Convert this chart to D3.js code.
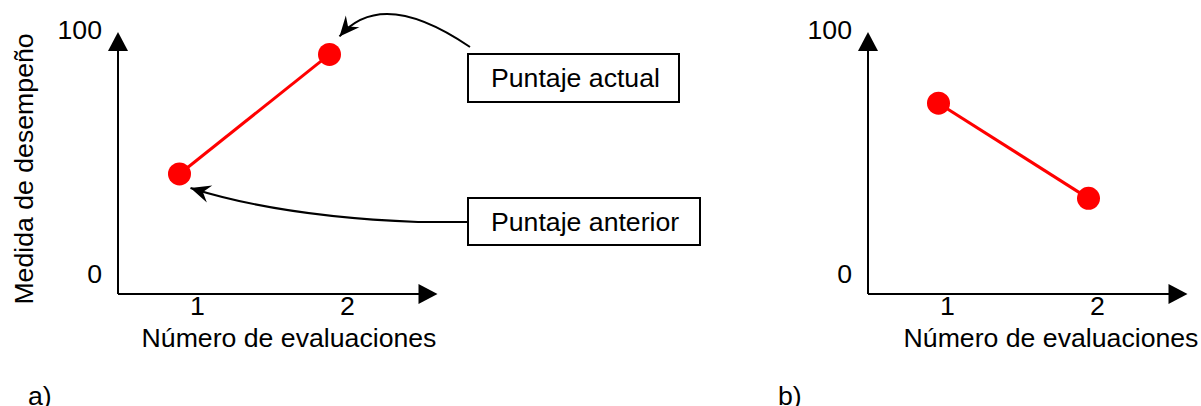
<!DOCTYPE html>
<html>
<head>
<meta charset="utf-8">
<script src="https://cdn.jsdelivr.net/npm/d3@7"></script>
<style>
  html, body { margin: 0; padding: 0; background: #fff; }
  svg text { font-family: "Liberation Sans", Arial, sans-serif; fill: #000; font-size: 26.67px; }
</style>
</head>
<body>
<div id="chart"></div>
<script>
// data
var evalA = [0.88, 1.88];      // x position of the two scores, panel a
var scoreA = [41, 90];         // performance measure, panel a
var evalB = [0.94, 1.94];      // panel b
var scoreB = [70, 31];
var xTicks = [1, 2];
var yTicks = [0, 100];
var calloutLabels = ["Puntaje anterior", "Puntaje actual"];

var W = 1201, H = 406;

var svg = d3.select("#chart").append("svg")
    .attr("width", W)
    .attr("height", H);

var defs = svg.append("defs");
defs.append("marker")
    .attr("id", "head")
    .attr("markerUnits", "userSpaceOnUse")
    .attr("viewBox", "-22 -11 24 22")
    .attr("refX", 0).attr("refY", 0)
    .attr("markerWidth", 24).attr("markerHeight", 22)
    .attr("orient", "auto")
  .append("path")
    .attr("d", "M0,0 L-20,-9 L-13,0 L-20,9 Z")
    .attr("fill", "#000");

var y = d3.scaleLinear().domain([0, 100]).range([274, 30]);

function drawPanel(ox, xs, ys, titleX, tag) {
  var x = d3.scaleLinear().domain([0.47, 2.6]).range([ox, ox + 319.5]);
  var g = svg.append("g");

  // axes with filled arrow heads
  var x0 = ox, yb = 294, yt = 32, xr = x(2.6);
  g.append("line").attr("x1", x0).attr("y1", yb).attr("x2", x0).attr("y2", yt + 14)
      .attr("stroke", "#000").attr("stroke-width", 2);
  g.append("line").attr("x1", x0).attr("y1", yb).attr("x2", xr - 14).attr("y2", yb)
      .attr("stroke", "#000").attr("stroke-width", 2);
  g.append("path")
      .attr("d", "M" + x0 + "," + yt + "L" + (x0 - 10) + "," + (yt + 19) + "L" + (x0 + 10) + "," + (yt + 19) + "Z")
      .attr("fill", "#000");
  g.append("path")
      .attr("d", "M" + xr + "," + yb + "L" + (xr - 19) + "," + (yb - 10) + "L" + (xr - 19) + "," + (yb + 10) + "Z")
      .attr("fill", "#000");

  g.selectAll(".ytick").data(yTicks).enter().append("text")
      .attr("class", "ytick")
      .attr("x", x0 - 16)
      .attr("y", function(d) { return y(d); })
      .attr("dy", "0.35em")
      .attr("text-anchor", "end")
      .text(function(d) { return d; });

  g.selectAll(".xtick").data(xTicks).enter().append("text")
      .attr("class", "xtick")
      .attr("x", function(d) { return x(d); })
      .attr("y", 315)
      .attr("text-anchor", "middle")
      .text(function(d) { return d; });

  g.append("text")
      .attr("x", titleX)
      .attr("y", 347)
      .attr("text-anchor", "middle")
      .text("Número de evaluaciones");

  g.append("text")
      .attr("x", ox - 90)
      .attr("y", 405)
      .text(tag);

  var pts = xs.map(function(v, i) { return [x(v), y(ys[i])]; });
  g.append("path")
      .attr("d", d3.line()(pts))
      .attr("fill", "none")
      .attr("stroke", "#ff0000")
      .attr("stroke-width", 3);
  g.selectAll("circle").data(pts).enter().append("circle")
      .attr("cx", function(d) { return d[0]; })
      .attr("cy", function(d) { return d[1]; })
      .attr("r", 11.5)
      .attr("fill", "#ff0000");
  return pts;
}

var ptsA = drawPanel(118, evalA, scoreA, 289, "a)");
drawPanel(868, evalB, scoreB, 1051, "b)");

// y axis title (panel a only)
svg.append("text")
    .attr("transform", "translate(33,169) rotate(-90)")
    .attr("text-anchor", "middle")
    .text("Medida de desempeño");

// callout boxes
var boxes = [
  {x: 468, y: 198, w: 232, h: 47},
  {x: 468, y: 54, w: 211, h: 48}
];
boxes.forEach(function(b, i) {
  svg.append("rect")
      .attr("x", b.x).attr("y", b.y).attr("width", b.w).attr("height", b.h)
      .attr("fill", "#fff").attr("stroke", "#000").attr("stroke-width", 2);
  svg.append("text")
      .attr("x", b.x + 23)
      .attr("y", b.y + b.h / 2)
      .attr("dy", "0.35em")
      .text(calloutLabels[i]);
});

// curved arrows from boxes to the points
var p1 = ptsA[0], p2 = ptsA[1];
var t1 = [p1[0] + 11, p1[1] + 14];
var t2 = [p2[0] + 10, p2[1] - 18];
svg.append("path")
    .attr("d", "M468,222 L418,222 C340,219 260,210 " + t1[0] + "," + t1[1])
    .attr("fill", "none").attr("stroke", "#000").attr("stroke-width", 2)
    .attr("marker-end", "url(#head)");
svg.append("path")
    .attr("d", "M470,47 C445,30 415,14 387,14 C368,14 352,22 " + t2[0] + "," + t2[1])
    .attr("fill", "none").attr("stroke", "#000").attr("stroke-width", 2)
    .attr("marker-end", "url(#head)");
</script>
</body>
</html>
